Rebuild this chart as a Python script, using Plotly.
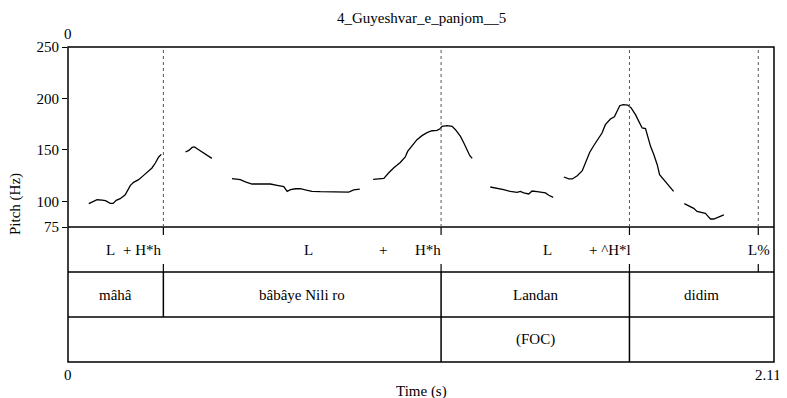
import plotly.graph_objects as go

# ---------------- data ----------------
title_text = "4_Guyeshvar_e_panjom__5"
t_max = 2.11

# pitch contour segments (time s, pitch Hz)
seg1_t = [0.062, 0.072, 0.087, 0.102, 0.112, 0.126, 0.135, 0.144, 0.156, 0.171, 0.186, 0.196, 0.211, 0.226, 0.241, 0.251, 0.261, 0.271, 0.279]
seg1_f = [97.7, 99.3, 101.5, 101.2, 100.6, 98.0, 98.0, 100.9, 102.5, 106.4, 115.2, 118.4, 121.0, 125.2, 129.4, 132.4, 137.2, 143.1, 145.6]

seg2_t = [0.351, 0.361, 0.371, 0.378, 0.386, 0.396, 0.416, 0.430]
seg2_f = [147.9, 149.5, 152.4, 152.8, 151.1, 148.9, 145.3, 141.7]

seg3_t = [0.490, 0.515, 0.530, 0.550, 0.575, 0.605, 0.625, 0.645, 0.655, 0.665, 0.680, 0.694, 0.709, 0.729, 0.754, 0.794, 0.839, 0.854, 0.872]
seg3_f = [122.0, 121.0, 118.8, 116.8, 116.8, 116.8, 115.5, 114.2, 109.6, 111.3, 112.2, 112.2, 111.0, 109.6, 109.3, 109.3, 109.0, 111.0, 111.9]

seg4_t = [0.912, 0.929, 0.944, 0.958, 0.973, 0.993, 1.008, 1.015, 1.028, 1.043, 1.058, 1.073, 1.088, 1.103, 1.111, 1.118, 1.133, 1.148, 1.158, 1.173, 1.183, 1.193, 1.201, 1.208]
seg4_f = [121.3, 122.0, 122.3, 127.5, 132.4, 137.8, 143.1, 148.5, 154.3, 159.9, 163.8, 166.7, 168.6, 168.9, 170.3, 172.8, 173.5, 172.8, 169.6, 163.1, 156.7, 149.5, 144.3, 141.7]

seg5_t = [1.262, 1.282, 1.302, 1.322, 1.342, 1.352, 1.362, 1.377, 1.387, 1.402, 1.415, 1.427, 1.437, 1.450]
seg5_f = [113.9, 112.9, 111.3, 109.6, 108.6, 109.6, 108.1, 107.1, 110.0, 109.3, 108.8, 108.1, 105.9, 103.8]

seg6_t = [1.482, 1.497, 1.507, 1.522, 1.537, 1.546, 1.559, 1.571, 1.586, 1.596, 1.606, 1.621, 1.633, 1.641, 1.649, 1.659, 1.673, 1.683, 1.696, 1.706, 1.716, 1.726, 1.733, 1.741, 1.751, 1.761, 1.768, 1.781, 1.796, 1.810]
seg6_f = [123.6, 121.7, 121.7, 124.9, 129.7, 137.2, 147.5, 154.0, 161.5, 166.4, 174.5, 180.0, 182.2, 187.4, 192.9, 193.9, 193.6, 190.7, 184.2, 177.7, 171.3, 170.6, 163.1, 153.4, 145.3, 135.6, 125.8, 121.0, 115.2, 109.6]

seg7_t = [1.842, 1.855, 1.870, 1.880, 1.895, 1.905, 1.913, 1.920, 1.930, 1.945, 1.960]
seg7_f = [97.7, 95.7, 93.1, 90.2, 88.6, 88.2, 85.3, 82.8, 82.8, 84.7, 86.7]

segments_t = [seg1_t, seg2_t, seg3_t, seg4_t, seg5_t, seg6_t, seg7_t]
segments_f = [seg1_f, seg2_f, seg3_f, seg4_f, seg5_f, seg6_f, seg7_f]

pitch_ticks = [75, 100, 150, 200, 250]
pitch_range = [75, 250]

# tone tier (points) and its labels
tone_points = [0.285, 1.115, 1.678, 2.063]
tone_label_times = [0.127, 0.224, 0.718, 0.942, 1.077, 1.433, 1.621, 2.064]
tone_labels = ["L", "+ H*h", "L", "+", "H*h", "L", "+ ^H*l", "L%"]

# word tier (intervals)
word_bounds = [0.0, 0.285, 1.115, 1.678, 2.11]
word_labels = ["mâhâ", "bâbâye Nili ro", "Landan", "didim"]

# focus tier (intervals)
focus_bounds = [0.0, 1.115, 1.678, 2.11]
focus_labels = ["", "(FOC)", ""]

# ---------------- layout geometry ----------------
OFF = 8  # browser default body margin
W, H = 787 - OFF, 398 - OFF
ML, MR, MT = 68 - OFF, 13, 47 - OFF
MB = H - (362 - OFF)
PH = H - MT - MB  # plot height in px


def py(pix):
    """absolute page pixel row -> paper fraction"""
    return (H - MB - (pix - OFF)) / PH


pitch_bottom = py(227)
tier1_bottom = py(272)
tier2_bottom = py(317)
tick_len = 8 / PH

FONT = "Liberation Serif, Times New Roman, serif"

fig = go.Figure()

xs, ys = [], []
for tt, ff in zip(segments_t, segments_f):
    xs += tt + [None]
    ys += ff + [None]
fig.add_trace(go.Scatter(x=xs, y=ys, mode="lines", line=dict(color="black", width=1.3),
                         connectgaps=False, hoverinfo="skip", showlegend=False))

shapes = []
line_style = dict(color="black", width=1.5)
# outer frame
shapes.append(dict(type="rect", xref="paper", yref="paper", x0=0, x1=1, y0=0, y1=1, line=line_style))
# horizontal separators
for yv in [pitch_bottom, tier1_bottom, tier2_bottom]:
    shapes.append(dict(type="line", xref="paper", yref="paper", x0=0, x1=1, y0=yv, y1=yv, line=line_style))

# dotted lines in pitch area and ticks in tone tier
for tp in tone_points:
    shapes.append(dict(type="line", xref="x", yref="paper", x0=tp, x1=tp, y0=pitch_bottom, y1=1,
                       line=dict(color="#555555", width=1, dash="dot")))
    shapes.append(dict(type="line", xref="x", yref="paper", x0=tp, x1=tp, y0=pitch_bottom - tick_len, y1=pitch_bottom,
                       line=dict(color="black", width=1.2)))
    shapes.append(dict(type="line", xref="x", yref="paper", x0=tp, x1=tp, y0=tier1_bottom, y1=tier1_bottom + tick_len,
                       line=dict(color="black", width=1.2)))

# word tier boundaries
for b in word_bounds[1:-1]:
    shapes.append(dict(type="line", xref="x", yref="paper", x0=b, x1=b, y0=tier2_bottom, y1=tier1_bottom,
                       line=line_style))
# focus tier boundaries
for b in focus_bounds[1:-1]:
    shapes.append(dict(type="line", xref="x", yref="paper", x0=b, x1=b, y0=0, y1=tier2_bottom,
                       line=line_style))

annotations = []
txt = dict(family=FONT, size=15, color="black")

tier1_mid = (pitch_bottom + tier1_bottom) / 2
tier2_mid = (tier1_bottom + tier2_bottom) / 2
tier3_mid = tier2_bottom / 2

for t, lab in zip(tone_label_times, tone_labels):
    annotations.append(dict(x=t, y=tier1_mid, xref="x", yref="paper", text=lab, showarrow=False,
                            font=txt, xanchor="center", yanchor="middle"))
for i, lab in enumerate(word_labels):
    annotations.append(dict(x=(word_bounds[i] + word_bounds[i + 1]) / 2, y=tier2_mid, xref="x", yref="paper",
                            text=lab, showarrow=False, font=txt, xanchor="center", yanchor="middle"))
for i, lab in enumerate(focus_labels):
    if lab:
        annotations.append(dict(x=(focus_bounds[i] + focus_bounds[i + 1]) / 2, y=tier3_mid, xref="x", yref="paper",
                                text=lab, showarrow=False, font=txt, xanchor="center", yanchor="middle"))

# title
annotations.append(dict(x=0.5, y=py(18), xref="paper", yref="paper", text=title_text, showarrow=False,
                        font=txt, xanchor="center", yanchor="middle"))
# time marks
annotations.append(dict(x=0, y=py(34), xref="x", yref="paper", text="0", showarrow=False,
                        font=txt, xanchor="center", yanchor="middle"))
annotations.append(dict(x=0, y=py(375), xref="x", yref="paper", text="0", showarrow=False,
                        font=txt, xanchor="center", yanchor="middle"))
annotations.append(dict(x=t_max, y=py(375), xref="x", yref="paper", text=f"{t_max:.2f}", showarrow=False,
                        font=txt, xanchor="center", yanchor="middle", xshift=-6))
# axis titles
annotations.append(dict(x=0.5, y=py(391), xref="paper", yref="paper", text="Time (s)", showarrow=False,
                        font=txt, xanchor="center", yanchor="middle"))
annotations.append(dict(x=-(68 - 15) / (W - ML - MR), y=py(204), xref="paper", yref="paper", text="Pitch (Hz)",
                        showarrow=False, font=txt, textangle=-90, xanchor="center", yanchor="middle"))

fig.update_layout(
    width=W, height=H,
    margin=dict(l=ML, r=MR, t=MT, b=MB, pad=0),
    paper_bgcolor="white", plot_bgcolor="white",
    showlegend=False,
    xaxis=dict(range=[0, t_max], visible=False, showgrid=False, zeroline=False),
    yaxis=dict(domain=[pitch_bottom, 1], range=pitch_range, tickvals=pitch_ticks,
               ticktext=[str(v) for v in pitch_ticks], ticks="outside", ticklen=5, tickwidth=1,
               tickcolor="black", showgrid=False, zeroline=False, showline=False,
               tickfont=txt),
    shapes=shapes,
    annotations=annotations,
)

fig.write_html("out.html")
